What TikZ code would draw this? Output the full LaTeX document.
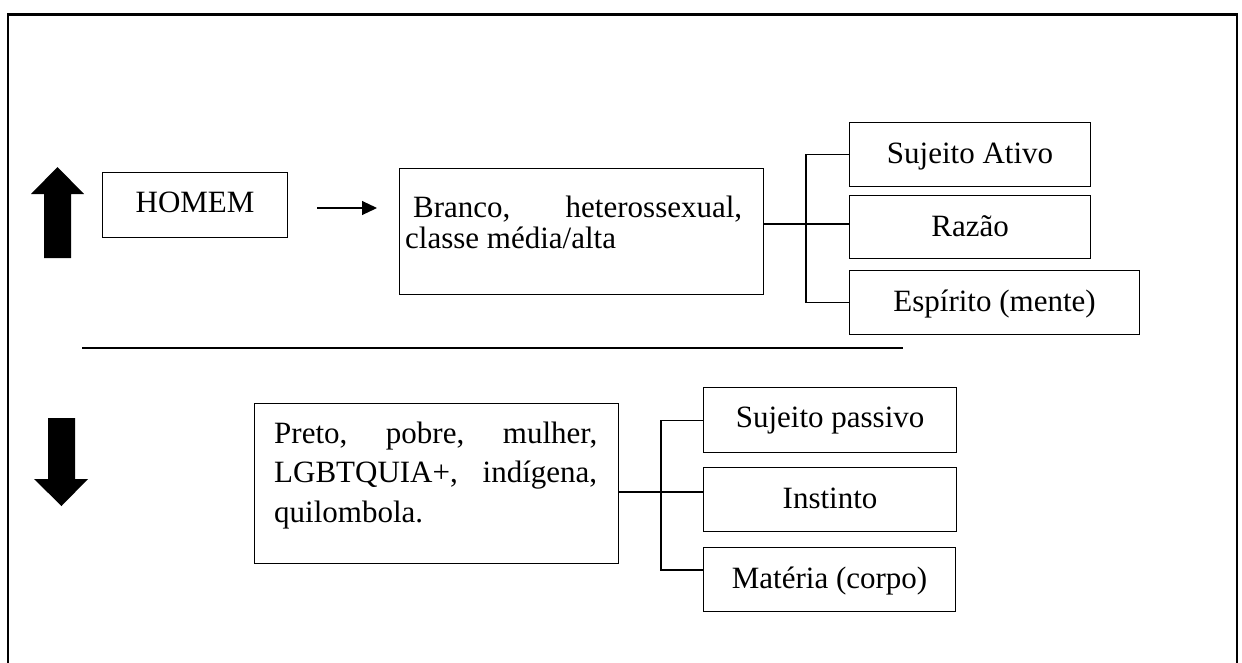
\documentclass[tikz,border=0pt]{standalone}
\usepackage{fontspec}
\setmainfont{Liberation Serif}
\usetikzlibrary{arrows.meta}
\begin{document}
\begin{tikzpicture}[x=1pt,y=-1pt,
  box/.style={draw, line width=1.1pt, inner sep=0pt, anchor=north west, align=center,
    text height=41pt, text depth=23pt, font=\fontsize{31}{37}\selectfont},
  bigbox/.style={draw, line width=1.1pt, inner sep=0pt, anchor=north west},
  para/.style={inner sep=0pt, anchor=base west},
  link/.style={line width=1.1pt},
  mainlink/.style={line width=2pt},
  blockarrow/.style={fill=black, draw=none}]
\useasboundingbox (0,0) rectangle (1242,662);
\clip (0,0) rectangle (1242,662);
% outer frame (bottom cut off)
\draw[line width=2.5pt] (8,700) -- (8,14.5) -- (1237,14.5) -- (1237,700);
% block arrows
\path[blockarrow] (57.5,167) -- (84,194) -- (71,194) -- (71,258) -- (44,258) -- (44,194) -- (31,194) -- cycle;
\path[blockarrow] (61.5,506) -- (88,479) -- (75,479) -- (75,418) -- (48,418) -- (48,479) -- (34,479) -- cycle;
% upper part
\node[box, minimum width=185pt, text height=40pt, text depth=25pt] (homem) at (102,172) {HOMEM};
\node[bigbox, minimum width=364pt, minimum height=126pt] (branco) at (399,168) {};
\node[para, font=\fontsize{31}{31.7}\selectfont] (brancotxt) at (405,217)
  {\parbox[t]{337pt}{\hspace*{8pt}Branco,\hfill heterossexual,\\classe média/alta}};
\node[box, minimum width=241pt] (suja) at (849,122) {Sujeito Ativo};
\node[box, minimum width=241pt, text depth=22pt] (razao) at (849,195) {Razão};
\node[box, minimum width=290pt] (esp) at (849,270) {Espírito (mente)};
\coordinate (a1) at (317,208);
\coordinate (a2) at (377,208);
\draw[line width=1.1pt, -{Triangle[length=15pt,width=14pt]}] (a1) -- (a2);
\coordinate (j1) at (806,224);
\draw[mainlink] (branco.east |- j1) -- (razao.west |- j1);
\draw[link] (suja.west) -| (j1) |- (esp.west);
% separator
\coordinate (s1) at (82,348);
\coordinate (s2) at (903,348);
\draw[line width=1.2pt] (s1) -- (s2);
% lower part
\node[bigbox, minimum width=364pt, minimum height=160pt] (preto) at (254,403) {};
\node[para, font=\fontsize{31}{39.5}\selectfont] (pretotxt) at (274,443)
  {\parbox[t]{323pt}{Preto,\hfill pobre,\hfill mulher,\\LGBTQUIA+,\hfill indígena,\\quilombola.}};
\node[box, minimum width=253pt, text height=40pt, text depth=25pt] (sujp) at (703,387) {Sujeito passivo};
\node[box, minimum width=253pt] (inst) at (703,467) {Instinto};
\node[box, minimum width=252pt] (mat) at (703,547) {Matéria (corpo)};
\coordinate (j2) at (661,492);
\coordinate (j3) at (661,570);
\draw[mainlink] (preto.east |- j2) -- (inst.west |- j2);
\draw[link] (sujp.west) -| (j2) -- (j3) -- (mat.west |- j3);
\end{tikzpicture}
\end{document}
